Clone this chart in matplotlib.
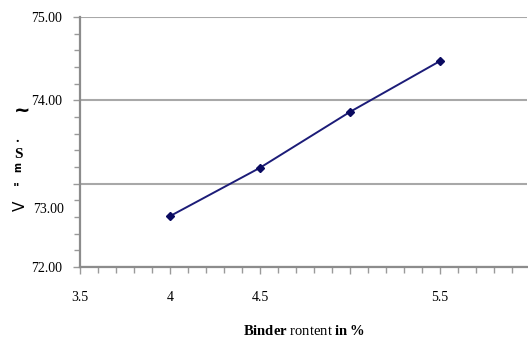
import matplotlib.pyplot as plt
from matplotlib.ticker import MultipleLocator
import matplotlib.transforms as mtransforms

plt.rcParams['font.family'] = 'Liberation Serif'
plt.rcParams['mathtext.fontset'] = 'custom'
plt.rcParams['mathtext.rm'] = 'Liberation Serif'
plt.rcParams['mathtext.bf'] = 'Liberation Serif:bold'

# data
binder = [4.0, 4.5, 5.0, 5.5]
values = [72.61, 73.19, 73.86, 74.47]

x_ticks = [3.5, 4.0, 4.5, 5.0, 5.5]
x_labels = ['3.5', '4', '4.5', '', '5.5']
y_ticks = [72, 73, 74, 75]
y_labels = ['72.00', '', '74.00', '75.00']

fig = plt.figure(figsize=(5.28, 3.39), dpi=100)
ax = fig.add_axes([80 / 528, 72 / 339, 447 / 528, 250 / 339])

ax.plot(binder, values, color='#1c1c78', lw=1.4, marker='D', ms=4.5,
        mfc='#0a0a60', mec='#0a0a60', zorder=3)

ax.set_xlim(3.5, 5.985)
ax.set_ylim(72, 75)
ax.set_xticks(x_ticks, x_labels)
ax.set_yticks(y_ticks, y_labels)
ax.xaxis.set_minor_locator(MultipleLocator(0.1))
ax.yaxis.set_minor_locator(MultipleLocator(0.2))

ax.grid(axis='y', color='#a8a8a8', lw=1.5)
ax.set_axisbelow(True)

for s in ['top', 'right']:
    ax.spines[s].set_visible(False)
for s in ['left', 'bottom']:
    ax.spines[s].set_color('#8c8c8c')
    ax.spines[s].set_linewidth(1.6)

ax.tick_params(which='both', direction='out', color='#9a9a9a', width=1.0)
ax.tick_params(which='major', length=5)
ax.tick_params(which='minor', length=4)
ax.tick_params(axis='x', labelsize=10, pad=12)
ax.tick_params(axis='y', labelsize=10, pad=8)

# misplaced 73.00 label as in the reference
trans = mtransforms.blended_transform_factory(ax.transAxes, ax.transData)
ax.text(-0.035, 72.69, '73.00', transform=trans, ha='right', va='center',
        fontsize=10)

ax.set_xlabel(r'$\mathbf{Binder}$ rontent $\mathbf{in}\,\mathbf{\%}$',
              fontsize=10.5, labelpad=15)

# garbled y label glyphs
fig.text(22 / 528, 1 - 110 / 339, '~', ha='center', va='center',
         fontsize=14, fontweight='bold', family='DejaVu Sans')
fig.text(17 / 528, 1 - 138 / 339, '.', ha='center', va='center',
         fontsize=10, fontweight='bold')
fig.text(18 / 528, 1 - 154 / 339, 'S', ha='center', va='center',
         fontsize=11, fontweight='bold')
fig.text(18 / 528, 1 - 167 / 339, 'm', ha='center', va='center',
         fontsize=7, fontweight='bold', rotation=90, family='DejaVu Sans')
fig.text(16 / 528, 1 - 188 / 339, '"', ha='center', va='center',
         fontsize=9, fontweight='bold', family='DejaVu Sans')
fig.text(20 / 528, 1 - 206 / 339, 'V', ha='center', va='center',
         fontsize=11, rotation=90, family='DejaVu Sans')

fig.savefig('out.png', dpi=100)
